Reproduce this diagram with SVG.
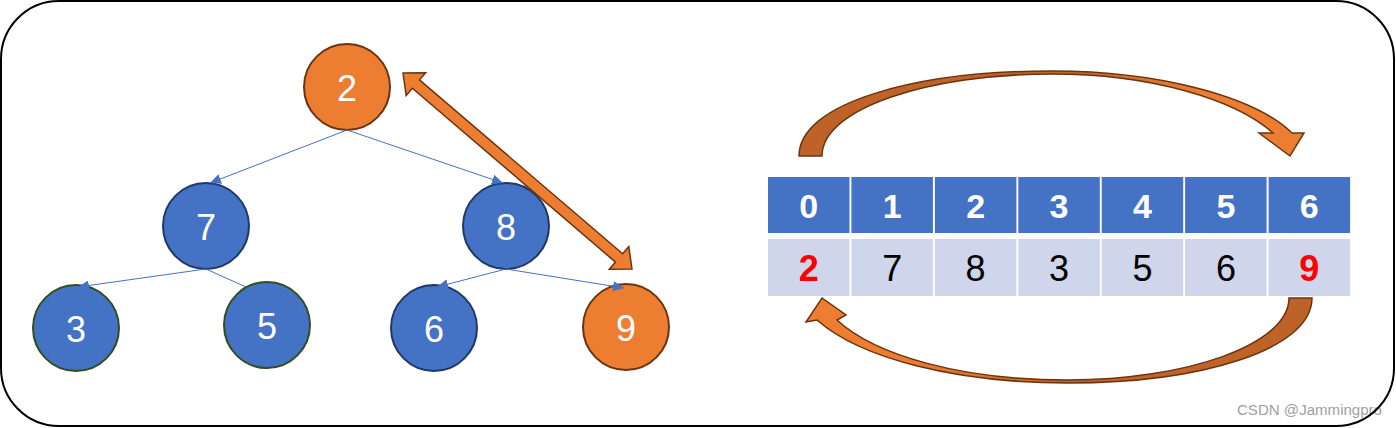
<svg xmlns="http://www.w3.org/2000/svg" width="1396" height="428" viewBox="0 0 1396 428">
<style>
.blue{fill:#4472c4;stroke:#1f3864;stroke-width:2}
.green{fill:#4472c4;stroke:#2f4f1f;stroke-width:2}
.orange{fill:#ed7d31;stroke:#6b3410;stroke-width:2}
.nt{font-family:"Liberation Sans",Arial,sans-serif;font-size:36px;fill:#ffffff;text-anchor:middle}
.edge{stroke:#4472c4;stroke-width:1;fill:none}
.hd{fill:#4472c4}
.vl{fill:#cfd5ea}
.ht{font-family:"Liberation Sans",Arial,sans-serif;font-size:34px;font-weight:bold;fill:#ffffff;text-anchor:middle}
.vt{font-family:"Liberation Sans",Arial,sans-serif;font-size:36px;fill:#000000;text-anchor:middle}
.red{fill:#ff0000;font-weight:bold}
.blk{stroke:#6b3410;stroke-width:1.5;stroke-linejoin:miter}
</style>
<defs>
<marker id="tri" markerUnits="userSpaceOnUse" markerWidth="12" markerHeight="10" refX="11" refY="5" orient="auto">
<path d="M0,0 L11,5 L0,10 Z" fill="#4472c4"/>
</marker>
<linearGradient id="gTop" gradientUnits="userSpaceOnUse" x1="799" y1="0" x2="1304" y2="0">
<stop offset="0" stop-color="#bd6228"/>
<stop offset="0.55" stop-color="#c4652a"/>
<stop offset="0.8" stop-color="#ed7d31"/>
<stop offset="1" stop-color="#ed7d31"/>
</linearGradient>
<linearGradient id="gBot" gradientUnits="userSpaceOnUse" x1="1312" y1="0" x2="806" y2="0">
<stop offset="0" stop-color="#bd6228"/>
<stop offset="0.5" stop-color="#c4652a"/>
<stop offset="0.8" stop-color="#ed7d31"/>
<stop offset="1" stop-color="#ed7d31"/>
</linearGradient>
</defs>
<rect x="0" y="0" width="1396" height="428" fill="#ffffff"/>
<text x="1237" y="415" font-family="Liberation Sans,Arial,sans-serif" font-size="14" fill="#a0a0a0" textLength="145" lengthAdjust="spacingAndGlyphs">CSDN @Jammingpro</text>
<rect x="1" y="1" width="1393" height="425" rx="58" ry="58" fill="none" stroke="#000000" stroke-width="2"/>

<g id="node-2"><circle class="orange" cx="347" cy="87" r="43"/><text class="nt" x="347" y="101">2</text></g>
<g id="node-7"><circle class="blue" cx="206" cy="226" r="43"/><text class="nt" x="206" y="240">7</text></g>
<g id="node-8"><circle class="blue" cx="506" cy="226" r="43"/><text class="nt" x="506" y="240">8</text></g>
<g id="node-3"><circle class="green" cx="76" cy="328" r="43"/><text class="nt" x="76" y="342">3</text></g>
<g id="node-5"><circle class="green" cx="267" cy="325" r="43"/><text class="nt" x="267" y="339">5</text></g>
<g id="node-6"><circle class="blue" cx="434" cy="328" r="43"/><text class="nt" x="434" y="342">6</text></g>
<g id="node-9"><circle class="orange" cx="626" cy="327" r="43"/><text class="nt" x="626" y="341">9</text></g>

<g id="connectors">
<line class="edge" x1="347" y1="130" x2="210" y2="183" marker-end="url(#tri)"/>
<line class="edge" x1="347" y1="130" x2="503" y2="183" marker-end="url(#tri)"/>
<line class="edge" x1="206" y1="269" x2="78" y2="287" marker-end="url(#tri)"/>
<line class="edge" x1="206" y1="269" x2="246" y2="287"/>
<line class="edge" x1="506" y1="269" x2="437" y2="287" marker-end="url(#tri)"/>
<line class="edge" x1="506" y1="269" x2="624" y2="288" marker-end="url(#tri)"/>
<polygon class="blk" fill="#ed7d31" transform="translate(403,73) rotate(40.56)" points="0,0 17,-15 17,-5.5 284.4,-5.5 284.4,-15 301.4,0 284.4,15 284.4,5.5 17,5.5 17,15"/>
<path class="blk" fill="url(#gTop)" d="M799,156 C799,103 915,71 1052,71 C1160,71 1255,97 1292,133 L1304,133 L1290,156 L1259,133 L1273,133 C1235,99 1150,74 1052,74 C930,74 822,108 822,156 Z"/>
<path class="blk" fill="url(#gBot)" d="M1312,298 C1312,350 1200,383 1068,383 C955,383 860,358 817,320 L806,322 L822,298 L846,315 L837,320 C875,355 960,380 1068,380 C1185,380 1289,345 1289,298 Z"/>
</g>

<g id="array">
<rect class="hd" x="768" y="177" width="81.5" height="56"/>
<rect class="hd" x="851.4" y="177" width="81.5" height="56"/>
<rect class="hd" x="934.9" y="177" width="81.5" height="56"/>
<rect class="hd" x="1018.3" y="177" width="81.5" height="56"/>
<rect class="hd" x="1101.7" y="177" width="81.5" height="56"/>
<rect class="hd" x="1185.1" y="177" width="81.5" height="56"/>
<rect class="hd" x="1268.6" y="177" width="81.5" height="56"/>
<rect class="vl" x="768" y="239" width="81.5" height="57"/>
<rect class="vl" x="851.4" y="239" width="81.5" height="57"/>
<rect class="vl" x="934.9" y="239" width="81.5" height="57"/>
<rect class="vl" x="1018.3" y="239" width="81.5" height="57"/>
<rect class="vl" x="1101.7" y="239" width="81.5" height="57"/>
<rect class="vl" x="1185.1" y="239" width="81.5" height="57"/>
<rect class="vl" x="1268.6" y="239" width="81.5" height="57"/>
<text class="ht" x="808.7" y="218">0</text>
<text class="ht" x="892.2" y="218">1</text>
<text class="ht" x="975.6" y="218">2</text>
<text class="ht" x="1059" y="218">3</text>
<text class="ht" x="1142.5" y="218">4</text>
<text class="ht" x="1225.9" y="218">5</text>
<text class="ht" x="1309.3" y="218">6</text>
<text class="vt red" x="808.7" y="281">2</text>
<text class="vt" x="892.2" y="281">7</text>
<text class="vt" x="975.6" y="281">8</text>
<text class="vt" x="1059" y="281">3</text>
<text class="vt" x="1142.5" y="281">5</text>
<text class="vt" x="1225.9" y="281">6</text>
<text class="vt red" x="1309.3" y="281">9</text>
</g>
</svg>
